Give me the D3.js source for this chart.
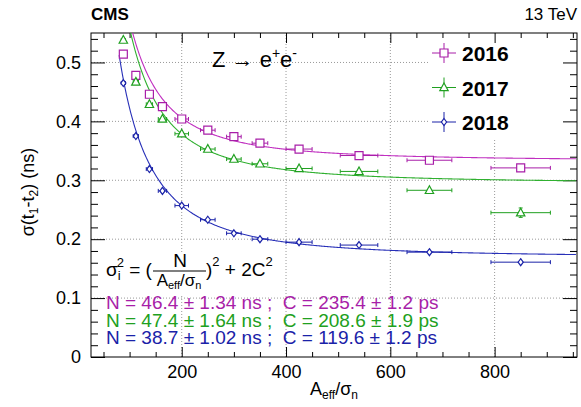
<!DOCTYPE html>
<html>
<head>
<meta charset="utf-8">
<script src="https://cdn.jsdelivr.net/npm/d3@7"></script>
<style>
  body { margin: 0; background: #fff; }
  svg text { font-family: "Liberation Sans", Arial, Helvetica, sans-serif; }
</style>
</head>
<body>
<div id="chart"></div>
<script>
// bin centres (A_eff / sigma_n) and their spread
const xVals = [88, 112, 138, 163, 200, 250, 300, 350, 425, 540, 675, 850];
const xErr  = [4, 5, 6, 8, 13, 14, 14, 15, 25, 36, 43, 57];

// sigma(t1-t2) in ns per year
const y2016 = [0.514, 0.478, 0.446, 0.425, 0.404, 0.385, 0.374, 0.363, 0.353, 0.342, 0.334, 0.321];
const y2017 = [0.538, 0.467, 0.429, 0.404, 0.379, 0.353, 0.336, 0.328, 0.320, 0.315, 0.283, 0.245];
const y2018 = [0.465, 0.375, 0.319, 0.282, 0.257, 0.233, 0.210, 0.200, 0.195, 0.190, 0.178, 0.161];
const yErr2016 = [0.002, 0.002, 0.002, 0.002, 0.002, 0.002, 0.002, 0.002, 0.002, 0.002, 0.003, 0.004];
const yErr2017 = [0.002, 0.002, 0.002, 0.002, 0.002, 0.002, 0.002, 0.002, 0.002, 0.003, 0.004, 0.008];
const yErr2018 = [0.002, 0.002, 0.002, 0.002, 0.002, 0.002, 0.002, 0.002, 0.002, 0.002, 0.002, 0.003];

// fit results: N in ns, C in ps
const fitN = [46.4, 47.4, 38.7];
const fitNErr = [1.34, 1.64, 1.02];
const fitC = [235.4, 208.6, 119.6];
const fitCErr = [1.2, 1.9, 1.2];

const years = ['2016', '2017', '2018'];
const colors = ['#a81ea8', '#20a020', '#1a22a8'];
const curveColors = ['#c030c0', '#30b030', '#2830b8'];
const markers = ['square', 'triangle', 'diamond'];

const xTicks = [200, 400, 600, 800];
const yTicks = [0, 0.1, 0.2, 0.3, 0.4, 0.5];

const W = 581, H = 407;
const margin = {top: 33, right: 4, bottom: 50, left: 91};

const svg = d3.select('#chart').append('svg')
    .attr('width', W).attr('height', H);

const x = d3.scaleLinear().domain([26, 958]).range([margin.left, W - margin.right]);
const y = d3.scaleLinear().domain([0, 0.55]).range([H - margin.bottom, margin.top]);
const x0 = x.range()[0], x1 = x.range()[1], y0 = y.range()[0], y1 = y.range()[1];

// grid
const grid = svg.append('g').attr('stroke', '#999').attr('stroke-dasharray', '1,2').attr('stroke-width', 1);
xTicks.forEach(t => grid.append('line').attr('x1', x(t)).attr('x2', x(t)).attr('y1', y0).attr('y2', y1));
yTicks.filter(t => t > 0).forEach(t => grid.append('line').attr('x1', x0).attr('x2', x1).attr('y1', y(t)).attr('y2', y(t)));

// white boxes (legend, formula)
svg.append('rect').attr('x', 428).attr('y', y1 + 1).attr('width', x1 - 429).attr('height', 104).attr('fill', '#fff');
svg.append('rect').attr('x', 98).attr('y', 254).attr('width', 182).attr('height', 42).attr('fill', '#fff');

// axes
svg.append('g').attr('transform', `translate(0,${y0})`)
    .call(d3.axisBottom(x).tickValues(xTicks).tickSize(-10).tickPadding(8).tickFormat(d3.format('d')));
svg.append('g').attr('transform', `translate(0,${y1})`)
    .call(d3.axisTop(x).tickValues(xTicks).tickSize(-10).tickFormat(''));
svg.append('g').attr('transform', `translate(${x0},0)`)
    .call(d3.axisLeft(y).tickValues(yTicks).tickSize(-14).tickPadding(10).tickFormat(d => d === 0 ? '0' : d3.format('.1f')(d)));
svg.append('g').attr('transform', `translate(${x1},0)`)
    .call(d3.axisRight(y).tickValues(yTicks).tickSize(-14).tickFormat(''));

const minorX = d3.range(50, 958, 50).filter(v => v % 200 !== 0);
const minorY = d3.range(0.02, 0.55, 0.02).filter(v => Math.abs(v * 10 - Math.round(v * 10)) > 0.01);
svg.append('g').attr('transform', `translate(0,${y0})`).call(d3.axisBottom(x).tickValues(minorX).tickSize(-5).tickFormat(''));
svg.append('g').attr('transform', `translate(0,${y1})`).call(d3.axisTop(x).tickValues(minorX).tickSize(-5).tickFormat(''));
svg.append('g').attr('transform', `translate(${x0},0)`).call(d3.axisLeft(y).tickValues(minorY).tickSize(-7).tickFormat(''));
svg.append('g').attr('transform', `translate(${x1},0)`).call(d3.axisRight(y).tickValues(minorY).tickSize(-7).tickFormat(''));

svg.selectAll('.domain').remove();
svg.selectAll('.tick text').attr('font-size', 18).attr('fill', '#000');
svg.selectAll('.tick line').attr('stroke', '#000');
svg.append('rect').attr('x', x0).attr('y', y1).attr('width', x1 - x0).attr('height', y0 - y1)
    .attr('fill', 'none').attr('stroke', '#000').attr('stroke-width', 1);

// fit curves
svg.append('clipPath').attr('id', 'plotclip').append('rect')
    .attr('x', x0).attr('y', y1).attr('width', x1 - x0).attr('height', y0 - y1);
const curveX = d3.range(80, 958, 2);
fitN.forEach((n, i) => {
  const c = fitC[i] / 1000;
  const line = d3.line().x(d => x(d)).y(d => y(Math.sqrt((n / d) ** 2 + 2 * c * c)));
  svg.append('path').datum(curveX).attr('d', line)
      .attr('fill', 'none').attr('stroke', curveColors[i]).attr('stroke-width', 1.1)
      .attr('clip-path', 'url(#plotclip)');
});

function markerPath(type) {
  if (type === 'square') return 'M-4,-4H4V4H-4Z';
  if (type === 'triangle') return 'M0,-4.5L4.2,3.2H-4.2Z';
  return 'M0,-3.5L2.6,0L0,3.5L-2.6,0Z';
}

function drawSeries(vals, yErr, i) {
  const g = svg.append('g').attr('clip-path', 'url(#plotclip)');
  vals.forEach((v, k) => {
    const px = x(xVals[k]), py = y(v);
    const xl = x(xVals[k] - xErr[k]), xr = x(xVals[k] + xErr[k]);
    const yt = y(v + yErr[k]), yb = y(v - yErr[k]);
    g.append('line').attr('x1', xl).attr('x2', xr).attr('y1', py).attr('y2', py).attr('stroke', colors[i]);
    g.append('line').attr('x1', xl).attr('x2', xl).attr('y1', py - 2).attr('y2', py + 2).attr('stroke', colors[i]);
    g.append('line').attr('x1', xr).attr('x2', xr).attr('y1', py - 2).attr('y2', py + 2).attr('stroke', colors[i]);
    g.append('line').attr('x1', px).attr('x2', px).attr('y1', yt).attr('y2', yb).attr('stroke', colors[i]);
    if (yb - yt > 8) {
      g.append('line').attr('x1', px - 2).attr('x2', px + 2).attr('y1', yt).attr('y2', yt).attr('stroke', colors[i]);
      g.append('line').attr('x1', px - 2).attr('x2', px + 2).attr('y1', yb).attr('y2', yb).attr('stroke', colors[i]);
    }
    g.append('path').attr('transform', `translate(${px},${py})`).attr('d', markerPath(markers[i]))
        .attr('fill', '#fff').attr('stroke', colors[i]).attr('stroke-width', 1.2);
  });
}
drawSeries(y2016, yErr2016, 0);
drawSeries(y2017, yErr2017, 1);
drawSeries(y2018, yErr2018, 2);

// legend
years.forEach((yr, i) => {
  const ly = 53 + i * 34.5, lx = 444;
  svg.append('line').attr('x1', lx - 12).attr('x2', lx + 12).attr('y1', ly).attr('y2', ly).attr('stroke', colors[i]);
  svg.append('line').attr('x1', lx).attr('x2', lx).attr('y1', ly - 10).attr('y2', ly + 10).attr('stroke', colors[i]);
  svg.append('path').attr('transform', `translate(${lx},${ly})`).attr('d', markerPath(markers[i]))
      .attr('fill', '#fff').attr('stroke', colors[i]).attr('stroke-width', 1.2);
  svg.append('text').attr('x', 462).attr('y', ly + 8).attr('font-size', 21).attr('font-weight', 'bold').text(yr);
});

// labels
svg.append('text').attr('x', x0).attr('y', 20).attr('font-size', 17).attr('font-weight', 'bold').text('CMS');
svg.append('text').attr('x', x1).attr('y', 20).attr('font-size', 17).attr('text-anchor', 'end').text('13 TeV');

const zt = svg.append('text').attr('x', 212).attr('y', 67).attr('font-size', 22);
zt.append('tspan').text('Z \u2192 e');
zt.append('tspan').attr('font-size', 14).attr('dy', -9).text('+');
zt.append('tspan').attr('font-size', 22).attr('dy', 9).text('e');
zt.append('tspan').attr('font-size', 14).attr('dy', -9).text('-');

const xt = svg.append('text').attr('x', 334).attr('y', 395).attr('font-size', 18).attr('text-anchor', 'middle');
xt.append('tspan').text('A');
xt.append('tspan').attr('font-size', 12).attr('dy', 4).text('eff');
xt.append('tspan').attr('font-size', 18).attr('dy', -4).text('/\u03c3');
xt.append('tspan').attr('font-size', 12).attr('dy', 4).text('n');

const yt = svg.append('text').attr('transform', 'translate(34,192) rotate(-90)').attr('font-size', 18).attr('text-anchor', 'middle');
yt.append('tspan').text('\u03c3(t');
yt.append('tspan').attr('font-size', 12).attr('dy', 4).text('1');
yt.append('tspan').attr('font-size', 18).attr('dy', -4).text('-t');
yt.append('tspan').attr('font-size', 12).attr('dy', 4).text('2');
yt.append('tspan').attr('font-size', 18).attr('dy', -4).text(') (ns)');

// formula
const f = svg.append('g');
const f1 = f.append('text').attr('x', 106).attr('y', 276).attr('font-size', 19);
f1.append('tspan').text('\u03c3');
f1.append('tspan').attr('font-size', 13).attr('dy', 4).text('i');
f1.append('tspan').attr('font-size', 13).attr('dx', -4).attr('dy', -13).text('2');
f1.append('tspan').attr('font-size', 19).attr('dy', 9).text(' = (');
f.append('text').attr('x', 180).attr('y', 267).attr('font-size', 19).attr('text-anchor', 'middle').text('N');
f.append('line').attr('x1', 153).attr('x2', 206).attr('y1', 271).attr('y2', 271).attr('stroke', '#000').attr('stroke-width', 1.2);
const fd = f.append('text').attr('x', 179).attr('y', 286).attr('font-size', 17).attr('text-anchor', 'middle');
fd.append('tspan').text('A');
fd.append('tspan').attr('font-size', 11).attr('dy', 3).text('eff');
fd.append('tspan').attr('font-size', 17).attr('dy', -3).text('/\u03c3');
fd.append('tspan').attr('font-size', 11).attr('dy', 3).text('n');
const f2 = f.append('text').attr('x', 206).attr('y', 276).attr('font-size', 19);
f2.append('tspan').text(')');
f2.append('tspan').attr('font-size', 13).attr('dy', -10).text('2');
f2.append('tspan').attr('font-size', 19).attr('dy', 10).text(' + 2C');
f2.append('tspan').attr('font-size', 13).attr('dy', -10).text('2');

years.forEach((yr, i) => {
  svg.append('text').attr('x', 106).attr('y', 309 + i * 17.5).attr('font-size', 19).attr('fill', colors[i])
      .attr('xml:space', 'preserve').style('white-space', 'pre')
      .text(`N = ${fitN[i].toFixed(1)} \u00b1 ${fitNErr[i].toFixed(2)} ns ;  C = ${fitC[i].toFixed(1)} \u00b1 ${fitCErr[i].toFixed(1)} ps`);
});
</script>
</body>
</html>
